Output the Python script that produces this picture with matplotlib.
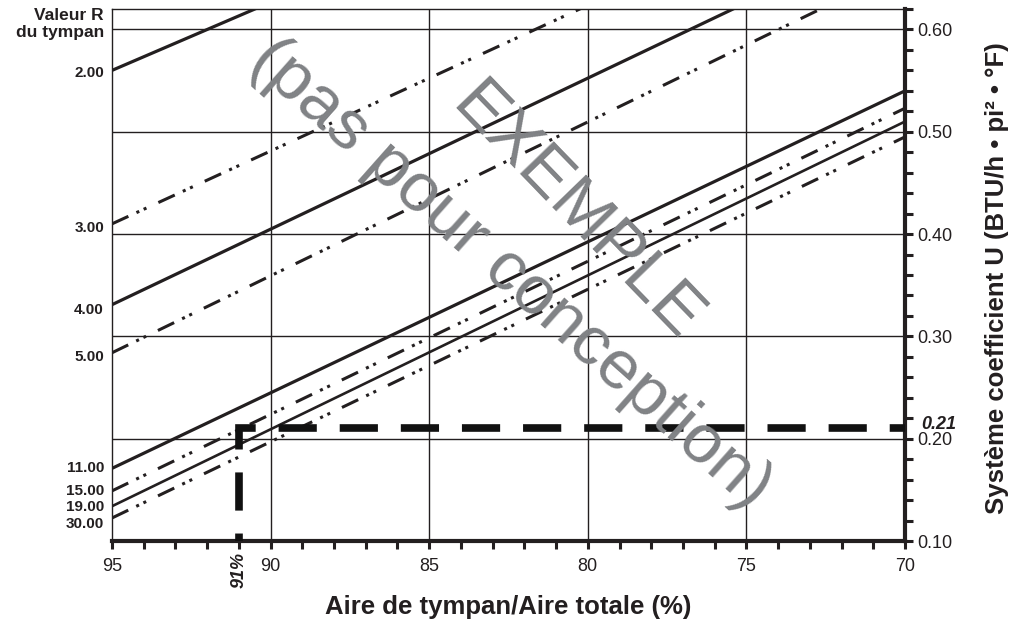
import numpy as np
import matplotlib
matplotlib.use("Agg")
import matplotlib.pyplot as plt
from matplotlib.ticker import MultipleLocator, FixedLocator

plt.rcParams['font.family'] = ['Liberation Sans', 'DejaVu Sans']

# data
area_ends = [95, 70]
r_labels = ['2.00', '3.00', '4.00', '5.00', '11.00', '15.00', '19.00', '30.00']
u_at_95 = [0.560, 0.410, 0.331, 0.284, 0.171, 0.149, 0.134, 0.1225]
u_at_70 = [0.893, 0.766, 0.700, 0.660, 0.540, 0.523, 0.510, 0.495]
dotted = [False, True, False, True, False, True, False, True]
# where the R labels sit on the left edge (they are spread a little apart)
r_label_u = [0.557, 0.406, 0.326, 0.280, 0.1714, 0.149, 0.1333, 0.1166]

sel_area = 91
sel_u = 0.21
x_major = [95, 90, 85, 80, 75, 70]
y_major = [0.10, 0.20, 0.30, 0.40, 0.50, 0.60]

ink = '#231f20'
grey = '#808285'

fig = plt.figure(figsize=(10.17, 6.26), dpi=100)
ax = fig.add_axes([112/1017, 1 - 541/626, 793/1017, 532/626])
ax.set_xlim(95, 70)
ax.set_ylim(0.10, 0.62)

# grid
for xv in x_major[1:-1]:
    ax.axvline(xv, color=ink, lw=1.0, zorder=1)
for yv in y_major[1:]:
    ax.axhline(yv, color=ink, lw=1.0, zorder=1)

# R-value lines
for lab, u0, u1, dd, ul in zip(r_labels, u_at_95, u_at_70, dotted, r_label_u):
    if dd:
        ax.plot(area_ends, [u0, u1], color=ink, lw=2.2,
                linestyle=(0, (5.9, 2.9, 1.0, 1.6, 1.0, 4.3)),
                dash_capstyle='butt', zorder=3)
    else:
        lw = 1.9 if lab == '19.00' else 2.3
        ax.plot(area_ends, [u0, u1], color=ink, lw=lw, zorder=3)
    ax.annotate(lab, xy=(95, ul), xytext=(-8, 0), textcoords='offset pixels',
                ha='right', va='center', fontsize=11, fontweight='bold',
                color=ink, annotation_clip=False)

# selected point
ax.plot([70, sel_area, sel_area], [sel_u, sel_u, 0.10], color='#111111', lw=5.5,
        linestyle=(3, (5.0, 3.0)), dash_joinstyle='miter', zorder=4, clip_on=False)
ax.annotate('0.21', xy=(70, sel_u), xytext=(16, 4), textcoords='offset pixels',
            ha='left', va='center', fontsize=13, fontweight='bold', style='italic',
            color=ink, annotation_clip=False)
ax.annotate('91%', xy=(sel_area, 0.10), xytext=(0, -29), textcoords='offset pixels',
            ha='center', va='center', rotation=90, fontsize=13, fontweight='bold',
            style='italic', color=ink, annotation_clip=False)

# spines / ticks
for s in ['left', 'top']:
    ax.spines[s].set_linewidth(1.0)
    ax.spines[s].set_color(ink)
for s in ['bottom', 'right']:
    ax.spines[s].set_linewidth(3.0)
    ax.spines[s].set_color(ink)

ax.xaxis.set_major_locator(FixedLocator(x_major))
ax.xaxis.set_minor_locator(MultipleLocator(1))
ax.set_xticklabels([str(v) for v in x_major])
ax.yaxis.tick_right()
ax.yaxis.set_major_locator(FixedLocator(y_major))
ax.yaxis.set_minor_locator(MultipleLocator(0.02))
ax.set_yticklabels(['%.2f' % v for v in y_major])
ax.tick_params(axis='both', which='both', direction='out', length=5.5, width=2.2,
               color=ink, labelsize=13, labelcolor=ink)
ax.tick_params(axis='x', which='major', pad=7)
ax.tick_params(axis='y', which='major', pad=3)

fig.text(104/1017, 1 - 24/626, 'Valeur R\ndu tympan', ha='right', va='center',
         fontsize=12.5, fontweight='bold', color=ink, linespacing=1.2)
fig.text(508/1017, 1 - 607/626, 'Aire de tympan/Aire totale (%)', ha='center',
         va='center', fontsize=18.5, fontweight='bold', color=ink)
fig.text(997/1017, 1 - 278/626, 'Système coefficient U (BTU/h • pi² • °F)',
         ha='center', va='center', rotation=90, fontsize=18.5, fontweight='bold',
         color=ink)

# watermark
ax.text(80.37, 0.421, 'EXEMPLE', rotation=-46, rotation_mode='anchor',
        ha='center', va='center', fontsize=50, color=grey, zorder=6)
ax.text(82.42, 0.361, '(pas pour conception)', rotation=-41.6,
        rotation_mode='anchor', ha='center', va='center', fontsize=50,
        color=grey, zorder=6)

fig.savefig('out.png', dpi=100)
